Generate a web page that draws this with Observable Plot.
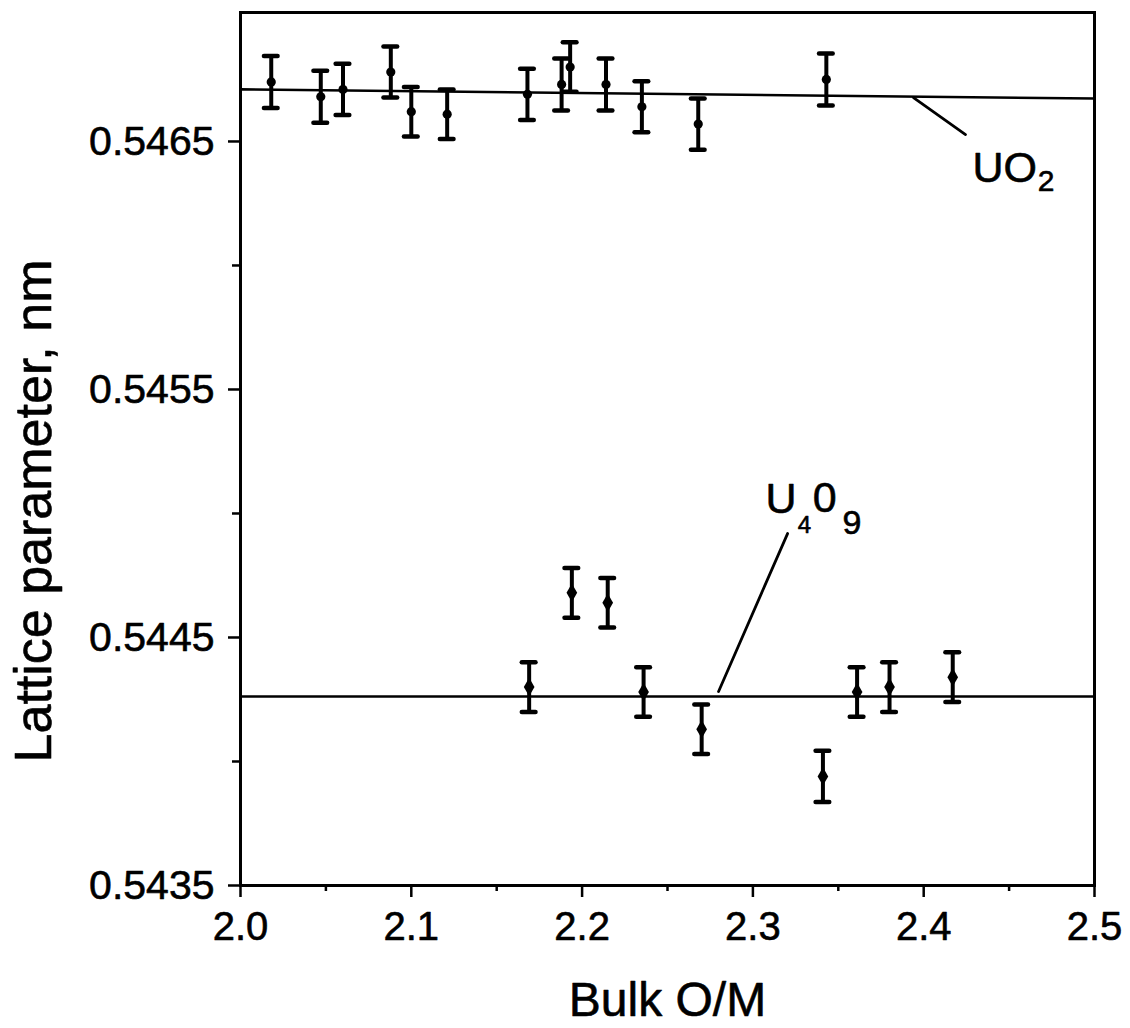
<!DOCTYPE html>
<html><head><meta charset="utf-8">
<script src="https://cdn.jsdelivr.net/npm/d3@7"></script>
<script src="https://cdn.jsdelivr.net/npm/@observablehq/plot@0.6"></script>
<style>body{margin:0;background:#fff}</style>
</head><body><div id="chart"></div>
<script>
// UO2 phase lattice parameters (nm) vs bulk O/M
const uo2X   = [2.018, 2.047, 2.060, 2.088, 2.100, 2.121, 2.168, 2.188, 2.193, 2.214, 2.235, 2.268, 2.343];
const uo2Y   = [0.54674, 0.54668, 0.54671, 0.54678, 0.54662, 0.54661, 0.54669, 0.54673, 0.54680, 0.54673, 0.54664, 0.54657, 0.54675];
const uo2Err = [0.000105, 0.000105, 0.000103, 0.000103, 0.0001, 0.0001, 0.000103, 0.000105, 0.0001, 0.000105, 0.000103, 0.000103, 0.000105];
// U4O9 phase
const u4o9X   = [2.169, 2.194, 2.215, 2.236, 2.270, 2.341, 2.361, 2.380, 2.417];
const u4o9Y   = [0.54430, 0.54468, 0.54464, 0.54428, 0.54413, 0.54394, 0.54428, 0.54430, 0.54434];
const u4o9Err = [0.0001, 0.0001, 0.0001, 0.0001, 0.0001, 0.000103, 0.0001, 0.0001, 0.0001];
// reference lines
const uo2FitX = [2.0, 2.5], uo2FitY = [0.54671, 0.546673];
const u4o9FitX = [2.0, 2.5], u4o9FitY = [0.544262, 0.544262];
// label leader lines
const uo2LeaderX = [2.394, 2.4245], uo2LeaderY = [0.546677, 0.546528];
const u4o9LeaderX = [2.2799, 2.3203], u4o9LeaderY = [0.544282, 0.544919];
// label pieces (main text + subscripts)
const labelMainText = ["UO", "U", "0"];
const labelMainX = [2.4285, 2.3074, 2.3350];
const labelMainY = [0.546335, 0.54500, 0.545004];
const labelSubText = ["2", "4", "9"];
const labelSubX = [2.4668, 2.3262, 2.3525];
const labelSubY = [0.546302, 0.544923, 0.544919];
// ticks
const xMajorTicks = [2.0, 2.1, 2.2, 2.3, 2.4, 2.5];
const xMinorTicks = [2.05, 2.15, 2.25, 2.35, 2.45];
const yMajorTicks = [0.5435, 0.5445, 0.5455, 0.5465];
const yMinorTicks = [0.5440, 0.5450, 0.5460];
const xTitle = "Bulk O/M";
const yTitle = "Lattice parameter, nm";

const uo2 = uo2X.map((x, i) => ({x, y: uo2Y[i], e: uo2Err[i]}));
const u4o9 = u4o9X.map((x, i) => ({x, y: u4o9Y[i], e: u4o9Err[i]}));
const all = uo2.concat(u4o9);
const caps = all.flatMap(d => [{x: d.x, y: d.y - d.e}, {x: d.x, y: d.y + d.e}]);
const capHalf = 0.0040;
const mainLabels = labelMainText.map((t, i) => ({t, x: labelMainX[i], y: labelMainY[i]}));
const subLabels = labelSubText.map((t, i) => ({t, x: labelSubX[i], y: labelSubY[i]}));
const subSize = {"2": 30, "4": 24, "9": 34};

const textHeavy = {stroke: "#000", strokeWidth: 0.6, fill: "#000"};

const chart = Plot.plot({
  width: 1130, height: 1028,
  marginLeft: 240, marginRight: 36, marginTop: 12, marginBottom: 143,
  x: {domain: [2.0, 2.5]},
  y: {domain: [0.5435, 0.54702]},
  style: {fontFamily: "'Liberation Sans', Arial, Helvetica, sans-serif", color: "#000", background: "#fff", overflow: "visible"},
  marks: [
    Plot.frame({stroke: "#000", strokeWidth: 3}),
    Plot.axisX(xMajorTicks, {tickSize: 12, tickPadding: 14, tickFormat: d => d.toFixed(1), fontSize: 40, strokeWidth: 2.5, textStroke: "#000", textStrokeWidth: 0.6, label: null}),
    Plot.axisX(xMinorTicks, {tickSize: 6, tickFormat: () => "", strokeWidth: 2.5, label: null}),
    Plot.axisY(yMajorTicks, {tickSize: 12, tickPadding: 14, tickFormat: d => d.toFixed(4), fontSize: 41, strokeWidth: 2.5, textStroke: "#000", textStrokeWidth: 0.6, label: null}),
    Plot.axisY(yMinorTicks, {tickSize: 8, tickFormat: () => "", strokeWidth: 2.5, label: null}),
    Plot.line(uo2FitX.map((x, i) => ({x, y: uo2FitY[i]})), {x: "x", y: "y", stroke: "#000", strokeWidth: 2.6}),
    Plot.line(u4o9FitX.map((x, i) => ({x, y: u4o9FitY[i]})), {x: "x", y: "y", stroke: "#000", strokeWidth: 2.6}),
    Plot.line(uo2LeaderX.map((x, i) => ({x, y: uo2LeaderY[i]})), {x: "x", y: "y", stroke: "#000", strokeWidth: 2.8}),
    Plot.line(u4o9LeaderX.map((x, i) => ({x, y: u4o9LeaderY[i]})), {x: "x", y: "y", stroke: "#000", strokeWidth: 2.8}),
    Plot.ruleX(all, {x: "x", y1: d => d.y - d.e, y2: d => d.y + d.e, stroke: "#000", strokeWidth: 4}),
    Plot.ruleY(caps, {y: "y", x1: d => d.x - capHalf, x2: d => d.x + capHalf, stroke: "#000", strokeWidth: 4.5, strokeLinecap: "round"}),
    Plot.dot(uo2, {x: "x", y: "y", r: 4.6, fill: "#000", stroke: null}),
    Plot.dot(u4o9, {x: "x", y: "y", r: 5.6, symbol: "diamond", fill: "#000", stroke: null}),
    Plot.text(mainLabels, {x: "x", y: "y", text: "t", textAnchor: "start", lineAnchor: "bottom", fontSize: 43, ...textHeavy}),
    Plot.text(subLabels, {x: "x", y: "y", text: "t", textAnchor: "start", lineAnchor: "bottom", fontSize: d => subSize[d.t], ...textHeavy}),
    Plot.text([xTitle], {frameAnchor: "bottom", textAnchor: "middle", dy: 130, lineAnchor: "bottom", fontSize: 48, ...textHeavy}),
    Plot.text([yTitle], {frameAnchor: "left", textAnchor: "middle", rotate: -90, dx: -206, dy: 62, lineAnchor: "middle", fontSize: 52, ...textHeavy})
  ]
});
document.getElementById("chart").appendChild(chart);
</script>
</body></html>
